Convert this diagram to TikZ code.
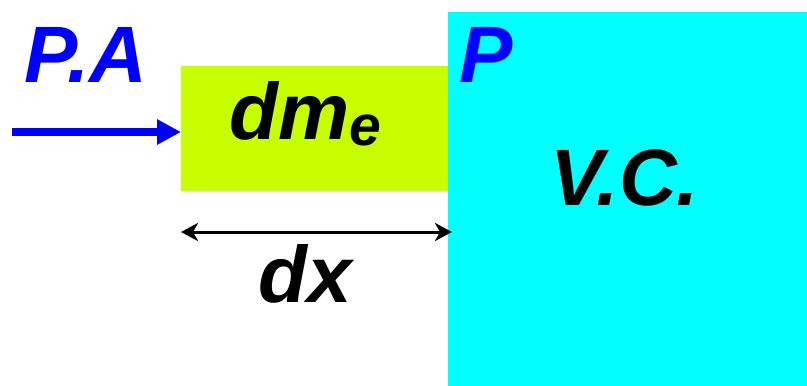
\documentclass[tikz,border=0pt]{standalone}
\usepackage{fontspec}
\setmainfont{Liberation Sans}
\usetikzlibrary{arrows.meta}
\definecolor{vcCyan}{RGB}{0,255,255}
\definecolor{dmGreen}{RGB}{200,255,0}
\definecolor{labBlue}{RGB}{0,0,255}
\begin{document}
\begin{tikzpicture}[x=1pt,y=-1pt,
  big/.style={inner sep=0pt,font=\fontsize{80}{88}\selectfont\bfseries\itshape},
  region/.style={draw=none,inner sep=0pt,anchor=north west}]
\useasboundingbox (0,0) rectangle (807,386);
\node[region,fill=vcCyan,minimum width=359pt,minimum height=374pt] (vc) at (448,12) {};
\node[region,fill=dmGreen,minimum width=267pt,minimum height=125pt] (dm) at (181,66) {};
\node[big,text=labBlue,anchor=base] (pa) at (86,82) {P.A};
\node[big,text=labBlue,anchor=base west] (p) at (459,82) {P};
\node[big,anchor=base west] (dme) at (229,139) {dm\raisebox{-6pt}{\fontsize{57}{60}\selectfont e}};
\node[big,anchor=base] (vcl) at (625,205) {V.C.};
\node[big,anchor=base] (dxl) at (305,302) {dx};
\coordinate (in) at (12,132);
\draw[labBlue,line width=8pt,-{Triangle[length=24pt,width=24pt]}] (in) -- (in -| dm.west);
\coordinate (dxa) at (181,232);
\coordinate (dxb) at (452,232);
\draw[black,line width=3pt,{Stealth[length=17pt,width=18pt,inset=5pt]}-{Stealth[length=17pt,width=18pt,inset=5pt]}] (dxa) -- (dxb);
\end{tikzpicture}
\end{document}
